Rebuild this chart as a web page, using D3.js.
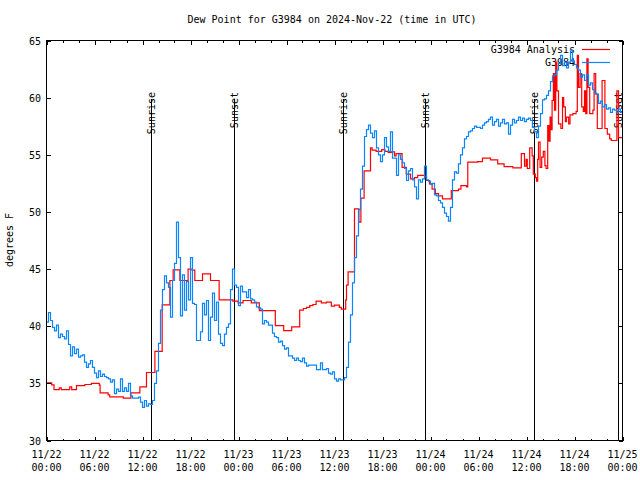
<!DOCTYPE html>
<html><head><meta charset="utf-8">
<script src="https://cdn.jsdelivr.net/npm/d3@7"></script>
<style>body{margin:0;background:#fff}svg{display:block}</style>
</head><body>
<svg id="c" width="640" height="480"></svg>
<script>
const titleText = "Dew Point for G3984 on 2024-Nov-22 (time in UTC)";
const yLabelText = "degrees F";
const seriesNames = ["G3984 Analysis", "G3984"];
const seriesColors = ["#ff0000", "#0a84ff"];
const startTime = "2024-11-22T00:00:00Z";
const endTime = "2024-11-25T00:00:00Z";
const yDomain = [30, 65];
const yTicks = [30, 35, 40, 45, 50, 55, 60, 65];

// G3984 observations, one value every 15 minutes from start
const obsStepMinutes = 15;
const obsValues = [
40.35,41.2,40.5,39.9,39.6,40.1,39.0,39.3,39.1,38.9,39.6,38.4,37.4,38.2,37.6,38.0,
37.3,37.4,37.5,36.85,36.4,36.7,37.0,36.4,35.9,35.5,36.1,35.6,35.8,35.6,35.5,35.4,
35.1,35.3,34.1,34.5,34.3,35.4,34.3,34.6,34.3,35.0,33.9,33.7,33.7,33.7,33.8,33.35,
32.9,33.5,33.0,33.2,33.15,33.5,35.0,36.1,38.5,41.4,43.2,44.4,43.8,43.4,40.8,44.0,
45.5,49.1,46.0,40.9,44.5,41.4,43.9,42.3,46.0,42.0,41.9,38.75,38.75,39.5,42.0,41.0,
42.25,38.75,40.8,42.9,40.5,42.1,39.3,38.5,38.3,39.3,39.9,40.2,43.2,45.0,43.6,43.4,
41.8,43.5,43.0,43.0,42.5,43.2,42.4,42.3,42.1,41.7,41.6,41.5,40.2,40.5,40.35,40.1,
40.1,39.4,39.1,39.0,38.6,38.7,38.3,38.0,38.1,37.4,37.4,37.2,37.0,37.2,37.0,36.9,
37.2,36.8,36.5,36.6,36.6,36.6,36.6,36.2,36.2,36.8,36.2,36.2,36.3,35.9,35.8,36.0,
35.4,35.2,35.4,35.3,35.3,35.5,36.4,38.6,41.0,43.8,46.0,47.9,50.2,52.0,54.0,56.6,
57.2,57.6,56.9,56.5,57.1,55.6,55.0,54.4,55.0,56.5,55.7,55.3,57.0,54.7,54.7,53.2,
55.0,54.6,54.3,53.8,52.75,53.6,53.8,52.8,52.2,51.15,52.8,52.6,52.9,54.0,52.8,52.7,
52.4,52.5,51.5,51.4,51.0,50.8,50.4,49.9,49.6,49.2,50.4,52.8,53.5,53.4,54.2,55.0,
55.6,56.4,56.6,57.0,57.1,57.3,57.5,57.4,57.4,57.3,57.6,57.8,57.9,58.1,58.3,57.6,
57.9,58.1,57.5,57.8,58.1,57.7,57.8,56.8,57.6,58.1,57.8,58.0,58.3,58.0,58.2,57.9,
58.1,58.2,58.0,57.4,57.0,56.5,57.5,58.6,59.8,59.9,60.2,60.6,61.4,61.9,62.0,62.4,
63.0,63.7,62.8,63.1,62.6,63.1,64.1,63.2,62.9,62.6,62.4,61.8,62.0,61.5,62.0,61.1,
61.3,60.7,60.4,60.3,59.5,59.7,59.2,59.4,59.0,59.1,58.7,59.0,58.9,58.7,59.0,58.7,
58.8
];

// G3984 Analysis: [hours after start, value] change points (stepped)
const analysisSteps = [
[0,35.05],[0.65,34.87],[0.94,34.46],[1.6,34.6],[1.85,34.46],[2.9,34.7],[3.15,34.46],
[3.75,34.8],[4.8,34.9],[5.6,35.0],[6.6,34.85],[6.7,34.17],[7.7,34.0],[7.9,33.82],
[9.6,33.7],[10.55,34.17],[11.67,34.7],[12.5,35.95],[13.55,37.8],[14.46,41.87],
[15.42,44.0],[15.83,44.93],[16.67,44.0],[17.7,45.0],[18.2,44.9],[18.54,44.0],
[19.5,44.58],[20.5,44.0],[21.58,42.3],[23.3,42.2],[23.95,42.05],[24.57,42.25],
[25.6,42.05],[26.6,41.37],[28.6,40.06],[29.65,39.62],[30.65,39.94],[31.65,41.4],
[32.1,41.55],[32.5,41.65],[32.9,41.8],[33.3,41.9],[33.7,42.2],[34.36,42.05],[35.0,42.1],
[35.6,41.75],[36.0,41.85],[36.6,41.65],[36.85,41.5],[37.4,42.3],[37.5,43.6],[37.7,44.75],
[38.5,50.27],[39.05,49.1],[39.3,51.2],[39.7,53.6],[40.5,55.6],[40.7,55.4],[41.2,55.3],
[41.9,55.45],[42.3,55.3],[42.7,55.2],[43.1,55.25],[43.5,54.9],[43.7,55.1],[44.45,53.9],
[44.97,53.3],[45.5,52.9],[46.0,53.0],[46.4,53.2],[47.3,53.05],[47.5,52.75],[47.87,52.45],
[48.2,52.0],[48.6,51.6],[49.0,51.4],[49.5,51.15],[50.6,51.87],[51.5,52.0],[51.8,52.3],
[52.5,52.2],[52.66,54.35],[53.9,54.4],[54.5,54.7],[55.5,54.55],[56.4,54.2],[57.2,53.97],
[58.3,53.85],[59.35,55.1],[59.75,54.0],[59.95,54.6],[60.1,53.8],[60.4,55.6],[60.7,54.9],
[60.85,53.3],[61.1,53.0],[61.25,52.7],[61.4,54.6],[61.5,56.1],[61.7,53.9],[61.9,54.8],
[62.1,55.3],[62.3,54.06],[62.45,53.8],[62.65,57.56],[62.8,56.2],[62.95,58.3],[63.05,57.2],
[63.2,59.75],[63.36,62.1],[63.5,58.9],[63.65,63.1],[63.8,60.6],[64.0,57.7],[64.3,57.3],
[64.5,60.0],[64.65,59.2],[64.86,57.9],[65.0,58.3],[65.27,57.7],[65.44,58.5],[65.8,58.6],
[66.2,58.8],[66.35,63.7],[66.5,60.9],[66.7,62.1],[66.9,59.2],[67.1,58.8],[67.25,60.6],
[67.4,58.6],[67.55,63.4],[67.7,60.9],[67.9,58.6],[68.3,58.9],[68.45,62.1],[68.65,60.3],
[68.85,57.3],[69.45,61.5],[69.8,57.3],[70.1,56.8],[70.4,56.4],[70.6,56.25],[71.3,60.6],
[71.5,56.5],[72,56.5]
];

const sunEvents = [
["Sunrise","2024-11-22T13:06:00Z"],["Sunset","2024-11-22T23:29:00Z"],
["Sunrise","2024-11-23T13:07:00Z"],["Sunset","2024-11-23T23:21:00Z"],
["Sunrise","2024-11-24T12:58:00Z"],["Sunset","2024-11-24T23:26:00Z"]
];

const FONT = "'DejaVu Sans Mono', 'Liberation Mono', monospace";
const L = 46.5, R = 622.5, T = 40.5, B = 440.5;
const svg = d3.select("#c");
svg.append("rect").attr("width",640).attr("height",480).attr("fill","#fff");

const t0 = new Date(startTime), t1 = new Date(endTime);
const x = d3.scaleUtc().domain([t0, t1]).range([L, R]);
const y = d3.scaleLinear().domain(yDomain).range([B, T]);

const g = svg.append("g").attr("font-family", FONT).attr("font-size", "10px").attr("fill", "#000");

g.append("text").attr("x", 332).attr("y", 23).attr("text-anchor", "middle").text(titleText);
g.append("text").attr("transform", "translate(13,240) rotate(-90)").attr("text-anchor", "middle").text(yLabelText);

sunEvents.forEach(([lab, ts]) => {
  const xx = Math.round(x(new Date(ts))) + 0.5;
  g.append("line").attr("x1", xx).attr("x2", xx).attr("y1", 99).attr("y2", B)
    .attr("stroke", "#000").attr("stroke-width", 1).attr("shape-rendering", "crispEdges");
  g.append("text").attr("transform", `translate(${xx + 3.5},92) rotate(-90)`)
    .attr("text-anchor", "end").text(lab);
});

const obs = obsValues.map((v, i) => [d3.utcMinute.offset(t0, i * obsStepMinutes), v]);
const ana = analysisSteps.map(([h, v]) => [new Date(+t0 + h * 3600e3), v]);

const lineStep = d3.line().x(d => x(d[0])).y(d => y(d[1])).curve(d3.curveStepAfter);
svg.append("path").attr("fill", "none").attr("stroke", seriesColors[0])
  .attr("stroke-width", 1.2).attr("d", lineStep(ana));
svg.append("path").attr("fill", "none").attr("stroke", seriesColors[1])
  .attr("stroke-width", 1.2).attr("d", lineStep(obs));

svg.append("rect").attr("x", L).attr("y", T).attr("width", R - L).attr("height", B - T)
  .attr("fill", "none").attr("stroke", "#000").attr("stroke-width", 1).attr("shape-rendering", "crispEdges");

const majorT = d3.utcHour.every(6).range(t0, d3.utcHour.offset(t1, 1));
const minorT = d3.utcHour.every(2).range(t0, d3.utcHour.offset(t1, 1));
const tickG = svg.append("g").attr("stroke", "#000").attr("shape-rendering", "crispEdges");
minorT.forEach(t => {
  const xx = Math.round(x(t)) + 0.5;
  const len = (t.getUTCHours() % 6 === 0) ? 4 : 2;
  tickG.append("line").attr("x1", xx).attr("x2", xx).attr("y1", B).attr("y2", B - len);
  tickG.append("line").attr("x1", xx).attr("x2", xx).attr("y1", T).attr("y2", T + len);
});
const fmtD = d3.utcFormat("%m/%d"), fmtH = d3.utcFormat("%H:%M");
majorT.forEach(t => {
  const xx = x(t);
  g.append("text").attr("x", xx).attr("y", 458).attr("text-anchor", "middle").text(fmtD(t));
  g.append("text").attr("x", xx).attr("y", 471).attr("text-anchor", "middle").text(fmtH(t));
});

yTicks.forEach(v => {
  const yy = Math.round(y(v)) + 0.5;
  tickG.append("line").attr("x1", L).attr("x2", L + 4).attr("y1", yy).attr("y2", yy);
  tickG.append("line").attr("x1", R).attr("x2", R - 4).attr("y1", yy).attr("y2", yy);
  g.append("text").attr("x", 41).attr("y", yy + 3.5).attr("text-anchor", "end").text(v);
});

seriesNames.forEach((name, i) => {
  const yy = 49.5 + i * 13;
  g.append("text").attr("x", 575).attr("y", yy + 3.5).attr("text-anchor", "end").text(name);
  svg.append("line").attr("x1", 582).attr("x2", 610).attr("y1", yy).attr("y2", yy)
    .attr("stroke", seriesColors[i]).attr("stroke-width", 1.2);
});
</script>
</body></html>
